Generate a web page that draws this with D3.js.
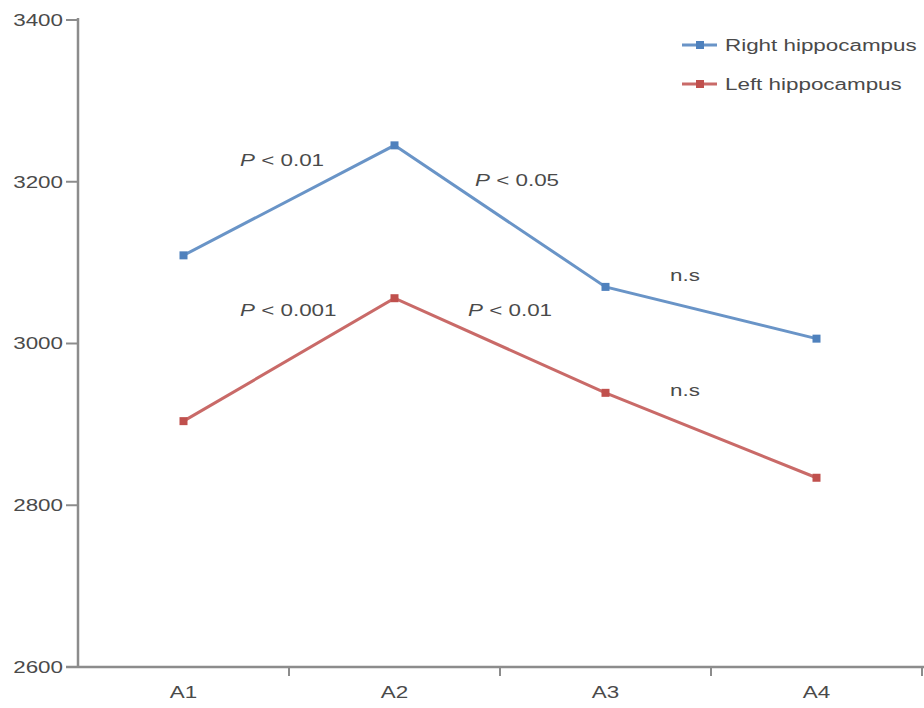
<!DOCTYPE html>
<html>
<head>
<meta charset="utf-8">
<script src="https://cdn.jsdelivr.net/npm/d3@7"></script>
<style>
  body { margin: 0; background: #fff; }
  svg { display: block; font-family: Arial, "Liberation Sans", sans-serif; }
</style>
</head>
<body>
<div id="chart"></div>
<script>
// data
const categories = ['A1', 'A2', 'A3', 'A4'];
const rightValues = [3109, 3245, 3070, 3006];
const leftValues = [2904, 3056, 2939, 2834];
const yTicks = [2600, 2800, 3000, 3200, 3400];
const seriesNames = ['Right hippocampus', 'Left hippocampus'];
// annotations between points: [series index, from category, label]
const annoRight = ['P < 0.01', 'P < 0.05', 'n.s'];
const annoLeft = ['P < 0.001', 'P < 0.01', 'n.s'];

const width = 924, height = 708;
const textStretch = 1.4; // source image was stretched horizontally
const textColor = '#4a4a4a';
const colors = ['#4F81BD', '#C0504D'];

let svg = d3.select('#chart').append('svg')
    .attr('width', width)
    .attr('height', height);

let x = d3.scaleBand()
    .domain(categories)
    .range([78, 922]);

let y = d3.scaleLinear()
    .domain([2600, 3400])
    .range([667, 20]);

// stretched text helper
function stext(g, tx, ty, anchor) {
    return g.append('text')
        .attr('transform', 'translate(' + tx + ',' + ty + ') scale(' + textStretch + ',1)')
        .attr('text-anchor', anchor || 'start')
        .attr('dominant-baseline', 'central')
        .attr('font-size', 16)
        .attr('fill', textColor);
}

// y axis
let yAxis = svg.append('g');
yAxis.append('line')
    .attr('x1', 78).attr('x2', 78)
    .attr('y1', y(3400) - 2).attr('y2', y(2600))
    .attr('stroke', '#8c8c8c').attr('stroke-width', 2.5);
yTicks.forEach(function(t) {
    yAxis.append('line')
        .attr('x1', 66).attr('x2', 78)
        .attr('y1', y(t)).attr('y2', y(t))
        .attr('stroke', '#8c8c8c').attr('stroke-width', 2);
    stext(yAxis, 63, y(t), 'end').text(t);
});

// x axis
let xAxis = svg.append('g');
xAxis.append('line')
    .attr('x1', 66).attr('x2', 924)
    .attr('y1', y(2600)).attr('y2', y(2600))
    .attr('stroke', '#8c8c8c').attr('stroke-width', 2.5);
categories.forEach(function(c) {
    let xr = x(c) + x.bandwidth();
    xAxis.append('line')
        .attr('x1', xr).attr('x2', xr)
        .attr('y1', y(2600)).attr('y2', y(2600) + 9)
        .attr('stroke', '#8c8c8c').attr('stroke-width', 2);
    stext(xAxis, x(c) + x.bandwidth() / 2, 692, 'middle').text(c);
});

// series
let line = d3.line()
    .x(function(d, i) { return x(categories[i]) + x.bandwidth() / 2; })
    .y(function(d) { return y(d); });

[rightValues, leftValues].forEach(function(vals, s) {
    let g = svg.append('g');
    g.append('path')
        .datum(vals)
        .attr('d', line)
        .attr('fill', 'none')
        .attr('stroke', colors[s])
        .attr('stroke-width', 3)
        .attr('stroke-opacity', 0.85);
    g.selectAll('rect')
        .data(vals)
        .enter().append('rect')
        .attr('x', function(d, i) { return x(categories[i]) + x.bandwidth() / 2 - 4; })
        .attr('y', function(d) { return y(d) - 4; })
        .attr('width', 8).attr('height', 8)
        .attr('fill', colors[s]);
});

// annotations
function anno(txt, ax, ay) {
    let t = stext(svg, ax, ay, 'start');
    if (txt.charAt(0) === 'P') {
        t.append('tspan').attr('font-style', 'italic').text('P');
        t.append('tspan').text(txt.slice(1));
    } else {
        t.text(txt);
    }
}
let annoPosRight = [[240, 160], [475, 180], [670, 275]];
let annoPosLeft = [[240, 310], [468, 310], [670, 390]];
annoRight.forEach(function(a, i) { anno(a, annoPosRight[i][0], annoPosRight[i][1]); });
annoLeft.forEach(function(a, i) { anno(a, annoPosLeft[i][0], annoPosLeft[i][1]); });

// legend
let legend = svg.append('g');
seriesNames.forEach(function(name, i) {
    let ly = 45 + i * 39;
    legend.append('line')
        .attr('x1', 682).attr('x2', 717)
        .attr('y1', ly).attr('y2', ly)
        .attr('stroke', colors[i]).attr('stroke-width', 3)
        .attr('stroke-opacity', 0.85);
    legend.append('rect')
        .attr('x', 696).attr('y', ly - 4)
        .attr('width', 8).attr('height', 8)
        .attr('fill', colors[i]);
    stext(legend, 725, ly, 'start').text(name);
});
</script>
</body>
</html>
